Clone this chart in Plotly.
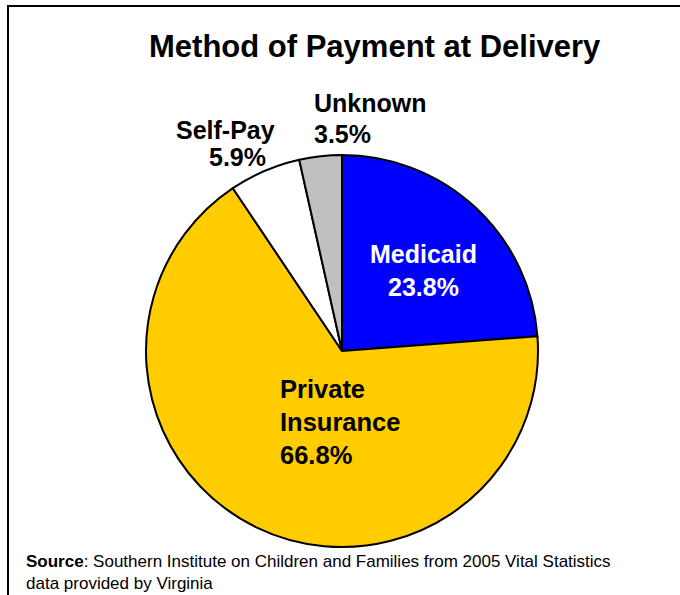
import plotly.graph_objects as go

categories = ["Medicaid", "Private Insurance", "Self-Pay", "Unknown"]
values = [23.8, 66.8, 5.9, 3.5]
colors = ["#0000FF", "#FFCC00", "#FFFFFF", "#C0C0C0"]

W, H = 680, 595
FONT = "Liberation Sans, Arial, sans-serif"

def px(x):
    return x / W

def py(y):
    return 1 - y / H

fig = go.Figure(go.Pie(
    labels=categories,
    values=values,
    sort=False,
    direction="clockwise",
    rotation=0,
    marker=dict(colors=colors, line=dict(color="black", width=2)),
    textinfo="none",
    hoverinfo="label+percent",
    showlegend=False,
    domain=dict(x=[px(146), px(538)], y=[py(547), py(155)]),
))

def lab(i):
    return f"{values[i]:.1f}%"

annotations = [
    dict(x=px(375), y=py(47), text="<b>Method of Payment at Delivery</b>",
         font=dict(size=31, color="black", family=FONT), xanchor="center", yanchor="middle"),
    dict(x=px(423), y=py(271), text=f"<b>{categories[0]}<br>{lab(0)}</b>",
         font=dict(size=25, color="white", family=FONT), xanchor="center", yanchor="middle", align="center"),
    dict(x=px(278), y=py(422), text="<b>Private<br>Insurance<br>" + lab(1) + "</b>",
         font=dict(size=25.5, color="black", family=FONT), xanchor="left", yanchor="middle", align="left"),
    dict(x=px(225), y=py(130), text=f"<b>{categories[2]}</b>",
         font=dict(size=25, color="black", family=FONT), xanchor="center", yanchor="middle"),
    dict(x=px(238), y=py(157), text=f"<b>{lab(2)}</b>",
         font=dict(size=25, color="black", family=FONT), xanchor="center", yanchor="middle"),
    dict(x=px(312), y=py(103), text=f"<b>{categories[3]}</b>",
         font=dict(size=25, color="black", family=FONT), xanchor="left", yanchor="middle"),
    dict(x=px(312), y=py(134), text=f"<b>{lab(3)}</b>",
         font=dict(size=25, color="black", family=FONT), xanchor="left", yanchor="middle"),
    dict(x=px(24), y=py(572), text="<b>Source</b>: Southern Institute on Children and Families from 2005 Vital Statistics<br>data provided by Virginia",
         font=dict(size=17, color="black", family=FONT), xanchor="left", yanchor="middle", align="left"),
]
for a in annotations:
    a.update(xref="paper", yref="paper", showarrow=False)

fig.update_layout(
    width=W, height=H,
    margin=dict(l=0, r=0, t=0, b=0),
    paper_bgcolor="white",
    plot_bgcolor="white",
    annotations=annotations,
    shapes=[dict(type="rect", xref="paper", yref="paper",
                 x0=px(8), x1=px(690), y0=py(610), y1=py(6),
                 line=dict(color="black", width=2), fillcolor="rgba(0,0,0,0)")],
)

fig.write_html("out.html", config={"displayModeBar": False},
               post_script="document.body.style.margin='0';document.body.style.overflow='hidden';")
